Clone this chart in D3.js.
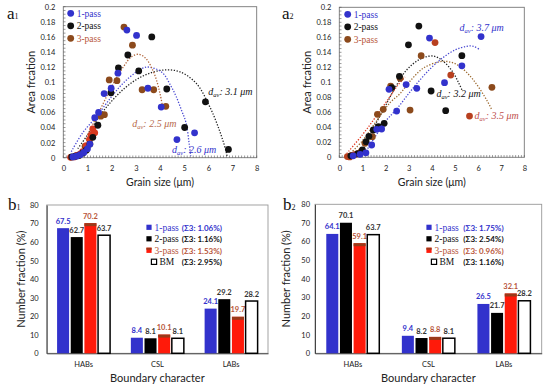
<!DOCTYPE html>
<html><head><meta charset="utf-8">
<script src="https://cdn.jsdelivr.net/npm/d3@7"></script>
<style>body{margin:0;background:#fff}</style>
</head><body><svg id="c" width="550" height="386"></svg>
<script>
// ---------- DATA: panel a1 ----------
const a1_pass1 = [[2.63,0.169],[3.03,0.162],[2.26,0.112],[1.98,0.092],[1.69,0.085],[3.50,0.092],[4.05,0.067],[5.43,0.033],[4.70,0.024],[1.46,0.060],[1.30,0.053],[1.10,0.018],[0.40,0.001],[0.55,0.002],[0.70,0.004],[0.85,0.007],[1.00,0.012]];
const a1_pass2 = [[3.66,0.160],[2.67,0.136],[2.28,0.119],[3.12,0.115],[4.28,0.091],[1.97,0.086],[5.88,0.074],[5.02,0.040],[6.83,0.011],[1.43,0.043],[1.22,0.027],[1.10,0.018],[0.95,0.010],[0.80,0.006],[0.65,0.003],[0.50,0.002],[0.35,0.001]];
const a1_pass3 = [[2.51,0.173],[2.86,0.149],[1.90,0.103],[2.22,0.102],[3.26,0.090],[3.74,0.090],[4.24,0.068],[1.70,0.057],[1.55,0.055],[0.90,0.015],[0.60,0.003]];
const a1_pass3red = [[1.22,0.038],[1.30,0.033],[1.15,0.030],[1.08,0.024],[0.95,0.016],[0.80,0.008],[0.70,0.005],[0.55,0.003],[0.45,0.001],[0.30,0.0005]];
const a1_fit1 = [[0.33,0.008],[0.8,0.033],[1.36,0.054],[2.0,0.081],[2.47,0.0985],[3.0,0.113],[3.43,0.120],[3.8,0.118],[4.12,0.112],[4.45,0.095],[4.67,0.081],[4.9,0.062],[5.08,0.046],[5.2,0.02],[5.27,0.002]];
const a1_fit2 = [[0.6,0.012],[1.0,0.030],[1.5,0.055],[2.0,0.075],[2.5,0.091],[3.0,0.103],[3.5,0.111],[4.1,0.116],[4.8,0.114],[5.5,0.0985],[6.05,0.068],[6.45,0.037],[6.72,0.010],[6.78,0.001]];
const a1_fit3 = [[1.0,0.030],[1.5,0.062],[2.0,0.094],[2.5,0.121],[2.8,0.133],[3.1,0.137],[3.4,0.132],[3.7,0.116],[3.9,0.098],[4.0,0.085],[4.12,0.066]];
const a1_labels = [["3.1",6.0,0.083],["2.6",4.5,0.006],["2.5",2.85,0.041]];

// ---------- DATA: panel a2 ----------
const a2_pass1 = [[3.90,0.159],[6.13,0.161],[5.30,0.122],[4.55,0.0995],[2.89,0.097],[3.35,0.092],[2.15,0.0907],[2.48,0.0617],[1.83,0.0377],[1.62,0.0373],[1.40,0.0164],[1.15,0.006],[0.90,0.004],[0.60,0.002]];
const a2_pass2 = [[3.44,0.175],[2.99,0.150],[5.30,0.1355],[2.60,0.108],[2.27,0.093],[3.97,0.0884],[4.60,0.0622],[1.94,0.0453],[1.69,0.0408],[1.47,0.0364],[1.28,0.028],[1.16,0.0208],[1.00,0.010],[0.80,0.005],[0.50,0.002]];
const a2_pass3 = [[3.54,0.1355],[2.63,0.1053],[2.22,0.095],[6.60,0.0933],[1.90,0.064],[3.06,0.063],[1.65,0.0573],[1.43,0.0275],[1.11,0.0187],[0.95,0.008]];
const a2_pass3red = [[4.14,0.153],[4.82,0.1097],[5.63,0.055],[0.35,0.001],[0.45,0.0005],[0.50,0.002],[0.60,0.003],[0.70,0.004],[0.80,0.005]];
const a2_fit1 = [[1.1,0.005],[1.5,0.025],[2.0,0.048],[2.5,0.065],[3.0,0.085],[3.4,0.100],[3.9,0.117],[4.4,0.131],[5.0,0.143],[5.5,0.148],[5.8,0.148],[6.1,0.143]];
const a2_fit2 = [[0.9,0.005],[1.4,0.035],[1.9,0.063],[2.4,0.092],[2.9,0.116],[3.5,0.131],[4.05,0.135],[4.5,0.128],[4.9,0.114],[5.15,0.100],[5.3,0.090]];
const a2_fit3 = [[0.4,0.003],[1.0,0.022],[1.6,0.048],[2.2,0.073],[2.63,0.085],[3.1,0.103],[3.64,0.119],[4.36,0.1275],[4.8,0.127],[5.22,0.121],[5.8,0.103],[6.38,0.076],[6.6,0.063]];
const a2_fitRed = [[0.32,0.005],[1.0,0.030],[1.6,0.055],[2.19,0.081],[2.5,0.095],[2.84,0.107]];
const a2_labels = [["3.7",5.2,0.168],["3.2",4.2,0.080],["3.5",5.85,0.051]];

// ---------- DATA: panels b1, b2 ----------
const categories = ["HABs","CSL","LABs"];
const seriesNames = ["1-pass","2-pass","3-pass","BM"];
const b1_pass1 = [67.5, 8.4, 24.1];
const b1_pass2 = [62.7, 8.1, 29.2];
const b1_pass3 = [70.2, 10.1, 19.7];
const b1_bm    = [63.7, 8.1, 28.2];
const b1_sigma3 = ["1.06%","1.16%","1.53%","2.95%"];
const b2_pass1 = [64.1, 9.4, 26.5];
const b2_pass2 = [70.1, 8.2, 21.7];
const b2_pass3 = [59.1, 8.8, 32.1];
const b2_bm    = [63.7, 8.1, 28.2];
const b2_sigma3 = ["1.75%","2.54%","0.96%","1.16%"];
const yTicksA = [0,0.02,0.04,0.06,0.08,0.1,0.12,0.14,0.16,0.18,0.2];
const yTicksB = [0,10,20,30,40,50,60,70,80];

// ---------- STYLE ----------
const svg = d3.select("#c");
svg.append("rect").attr("width",550).attr("height",386).attr("fill","#fff");
const SANS = "Lato, 'Open Sans', sans-serif";
const SERIF = "'Liberation Serif', 'DejaVu Serif', serif";
const C_BLUE = "#3232cc", C_BLACK = "#111", C_BROWN = "#8c4a1c", C_RED = "#d93a1f", C_TXT3 = "#b8553a";

function panelLabel(x, y, letter, sub){
  const t = svg.append("text").attr("x",x).attr("y",y).attr("font-family",SERIF).attr("fill","#111");
  t.append("tspan").attr("font-size",17).text(letter);
  t.append("tspan").attr("font-size",8).text(sub);
}

function davLabel(g, x, y, val, color){
  const t = g.append("text").attr("x",x).attr("y",y).attr("font-family",SERIF)
    .attr("font-style","italic").attr("font-size",10).attr("fill",color);
  t.append("tspan").text("d");
  t.append("tspan").attr("font-size",6.5).attr("dy",2).text("av");
  t.append("tspan").attr("dy",-2).text(": " + val + " \u03bcm");
}

function scatterPanel(cfg){
  const x = d3.scaleLinear().domain([0,8]).range(cfg.xr);
  const y = d3.scaleLinear().domain([0,0.2]).range(cfg.yr);
  const g = svg.append("g");
  g.append("rect").attr("x",cfg.xr[0]).attr("y",cfg.yr[1])
    .attr("width",cfg.xr[1]-cfg.xr[0]).attr("height",cfg.yr[0]-cfg.yr[1])
    .attr("fill","none").attr("stroke","#777").attr("stroke-width",0.9);
  g.selectAll(null).data(d3.range(0,8.0001,0.125)).join("line")
    .attr("x1",d=>x(d)).attr("x2",d=>x(d)).attr("y1",cfg.yr[0]).attr("y2",cfg.yr[0]-2.2)
    .attr("stroke","#555").attr("stroke-width",0.6);
  g.selectAll(null).data(d3.range(0,0.2001,0.005)).join("line")
    .attr("x1",cfg.xr[0]).attr("x2",cfg.xr[0]+2.2).attr("y1",d=>y(d)).attr("y2",d=>y(d))
    .attr("stroke","#555").attr("stroke-width",0.6);
  const xa = g.append("g").attr("transform",`translate(0,${cfg.yr[0]})`)
    .call(d3.axisBottom(x).ticks(8).tickSize(0).tickPadding(8));
  const ya = g.append("g").attr("transform",`translate(${cfg.xr[0]},0)`)
    .call(d3.axisLeft(y).tickValues(yTicksA).tickSize(0).tickPadding(8)
      .tickFormat(d=> d===0 ? "0" : String(+d.toFixed(2))));
  [xa,ya].forEach(a=>{ a.select(".domain").remove();
    a.selectAll("text").attr("font-family",SANS).attr("font-size",7.5).attr("fill","#222"); });
  g.append("text").attr("x",(cfg.xr[0]+cfg.xr[1])/2).attr("y",186).attr("text-anchor","middle")
    .attr("font-family",SANS).attr("font-size",10.5).attr("fill","#222").text("Grain size (\u03bcm)");
  g.append("text").attr("transform",`translate(${cfg.xr[0]-28},${(cfg.yr[0]+cfg.yr[1])/2}) rotate(-90)`)
    .attr("text-anchor","middle").attr("font-family",SANS).attr("font-size",11).attr("fill","#222")
    .text("Area frcation");
  const line = d3.line().x(d=>x(d[0])).y(d=>y(d[1])).curve(d3.curveCatmullRom);
  cfg.curves.forEach(c=>{
    g.append("path").attr("d",line(c.data)).attr("fill","none").attr("stroke",c.color)
      .attr("stroke-width",1.3).attr("stroke-dasharray","1.3,1.6");
  });
  cfg.series.forEach(s=>{
    g.selectAll(null).data(s.data).join("circle").attr("cx",d=>x(d[0])).attr("cy",d=>y(d[1]))
      .attr("r",3.4).attr("fill",s.color);
  });
  cfg.labels.forEach((l,i)=> davLabel(g, x(l[1]), y(l[2]), l[0], cfg.labelColors[i]));
  // legend
  const lg = [["1-pass",C_BLUE,C_BLUE],["2-pass",C_BLACK,"#111"],["3-pass",C_BROWN,C_TXT3]];
  lg.forEach((d,i)=>{
    const yy = cfg.legY + i*12.5;
    g.append("circle").attr("cx",cfg.legX).attr("cy",yy).attr("r",3.4).attr("fill",d[1]);
    g.append("text").attr("x",cfg.legX+6).attr("y",yy+3.2).attr("font-family",SERIF)
      .attr("font-size",9.5).attr("fill",d[2]).text(d[0]);
  });
}

scatterPanel({
  xr:[63.3,256.7], yr:[157.7,6.7], legX:70.7, legY:13.3,
  series:[{data:a1_pass3,color:C_BROWN},{data:a1_pass3red,color:C_RED},{data:a1_pass2,color:C_BLACK},{data:a1_pass1,color:C_BLUE}],
  curves:[{data:a1_fit2,color:"#222"},{data:a1_fit1,color:"#4a4ad2"},{data:a1_fit3,color:"#b0643a"}],
  labels:a1_labels, labelColors:["#111",C_BLUE,"#b86a4c"]
});
scatterPanel({
  xr:[339.3,524.3], yr:[157.3,7.3], legX:347.7, legY:14.3,
  series:[{data:a2_pass3,color:C_BROWN},{data:a2_pass3red,color:"#b8401f"},{data:a2_pass2,color:C_BLACK},{data:a2_pass1,color:C_BLUE}],
  curves:[{data:a2_fit2,color:"#222"},{data:a2_fitRed,color:"#e03a22"},{data:a2_fit3,color:"#9c6a30"},{data:a2_fit1,color:"#4a4ad2"}],
  labels:a2_labels, labelColors:[C_BLUE,"#111","#c0504d"]
});

function barPanel(cfg){
  const vals = [cfg.p1,cfg.p2,cfg.p3,cfg.bm];
  const x = d3.scaleBand().domain(categories).range(cfg.xr);
  const xs = d3.scaleBand().domain(seriesNames).range([0,53]).paddingInner(0.12);
  const y = d3.scaleLinear().domain([0,80]).range(cfg.yr);
  const g = svg.append("g");
  g.append("rect").attr("x",cfg.xr[0]).attr("y",cfg.yr[1])
    .attr("width",cfg.xr[1]-cfg.xr[0]).attr("height",cfg.yr[0]-cfg.yr[1])
    .attr("fill","none").attr("stroke","#999").attr("stroke-width",0.9);
  const ya = g.append("g").attr("transform",`translate(${cfg.xr[0]},0)`)
    .call(d3.axisLeft(y).tickValues(yTicksB).tickSize(0).tickPadding(cfg.tp));
  ya.select(".domain").attr("stroke","#444");
  ya.selectAll("text").attr("font-family",SANS).attr("font-size",7.5).attr("fill","#222");
  const xa = g.append("g").attr("transform",`translate(0,${cfg.yr[0]})`)
    .call(d3.axisBottom(x).tickSize(0).tickPadding(8));
  xa.select(".domain").attr("stroke","#444");
  xa.selectAll("text").attr("font-family",SANS).attr("font-size",7.5).attr("fill","#222");
  const fills = [C_BLUE,"#000","#ff1a0a","#fff"];
  const lblC = [C_BLUE,"#333",C_TXT3,"#333"];
  const off = (x.bandwidth()-53)/2;
  seriesNames.forEach((s,si)=>{
    categories.forEach((c,ci)=>{
      const v = vals[si][ci];
      const bx = x(c)+off+xs(s), bw = xs.bandwidth();
      g.append("rect").attr("x",bx).attr("y",y(v)).attr("width",bw).attr("height",y(0)-y(v))
        .attr("fill",fills[si]).attr("stroke",si===3?"#000":"none").attr("stroke-width",1.5);
      if(si===2){
        g.append("rect").attr("x",bx).attr("y",y(v)).attr("width",bw).attr("height",3)
          .attr("fill","#9a3a1a");
      }
      g.append("text").attr("x",bx+bw/2).attr("y",y(v)-4.5).attr("text-anchor","middle")
        .attr("font-family",SANS).attr("font-weight","bold").attr("font-size",7.5)
        .attr("fill",lblC[si]).text(v.toFixed(1));
    });
  });
  g.append("text").attr("x",(cfg.xr[0]+cfg.xr[1])/2).attr("y",382).attr("text-anchor","middle")
    .attr("font-family",SANS).attr("font-size",11).attr("fill","#222").text("Boundary character");
  g.append("text").attr("transform",`translate(${cfg.titleX},${(cfg.yr[0]+cfg.yr[1])/2}) rotate(-90)`)
    .attr("text-anchor","middle").attr("font-family",SANS).attr("font-size",11).attr("fill","#222")
    .text("Number fraction (%)");
  // legend
  const txtC = [C_BLUE,"#111",C_TXT3,"#111"];
  const sigC = [C_BLUE,"#111",C_TXT3,"#111"];
  seriesNames.forEach((s,i)=>{
    const yy = cfg.legY + i*11.5;
    const sx = i===3 ? cfg.legX+5 : cfg.legX;
    g.append("rect").attr("x",sx-2.6).attr("y",yy-2.6).attr("width",5.2).attr("height",5.2)
      .attr("fill",fills[i]).attr("stroke",i===3?"#000":"none").attr("stroke-width",1.2);
    if(i===2) g.append("rect").attr("x",sx-2.6).attr("y",yy-2.6).attr("width",5.2).attr("height",2).attr("fill","#9a3a1a");
    g.append("text").attr("x",sx+5.5).attr("y",yy+3.2).attr("font-family",SERIF)
      .attr("font-size",9.5).attr("fill",txtC[i]).text(s);
    g.append("text").attr("x",cfg.sigX).attr("y",yy+3.2).attr("font-family",SANS)
      .attr("font-weight","bold").attr("font-size",8).attr("fill",sigC[i])
      .text("(\u03a33: " + cfg.sig[i] + ")");
  });
}

barPanel({xr:[46.7,268], yr:[353.3,205], tp:8, titleX:25, legX:149, legY:227.3, sigX:181.7,
  p1:b1_pass1,p2:b1_pass2,p3:b1_pass3,bm:b1_bm,sig:b1_sigma3});
barPanel({xr:[315,541.7], yr:[353.3,204.3], tp:5, titleX:290, legX:429, legY:227.3, sigX:463.3,
  p1:b2_pass1,p2:b2_pass2,p3:b2_pass3,bm:b2_bm,sig:b2_sigma3});

panelLabel(7,18.5,"a","1");
panelLabel(282,19,"a","2");
panelLabel(8,210,"b","1");
panelLabel(283,210,"b","2");
</script></body></html>
